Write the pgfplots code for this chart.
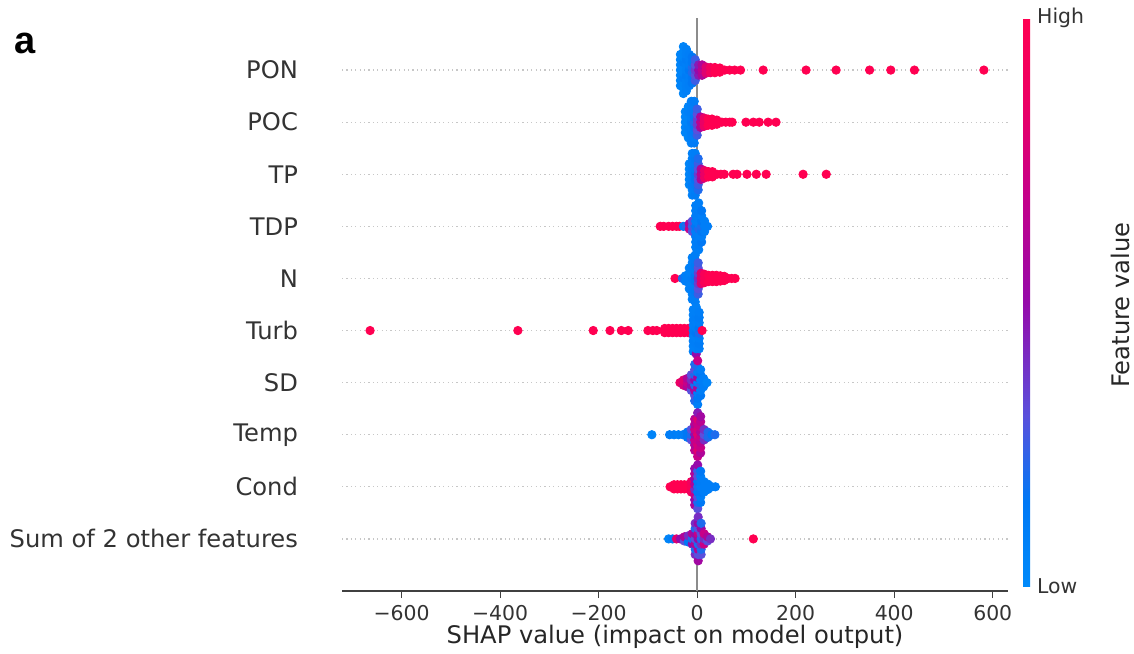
\documentclass[border=0pt]{standalone}
\usepackage{fontspec}
\setmainfont{DejaVu Sans}
\newfontfamily\panelfont{Liberation Sans}
\usepackage{pgfplots}
\pgfplotsset{compat=1.18}

\pgfplotsset{
  colormap={shap}{rgb255(0cm)=(0,138,250); rgb255(1.5cm)=(0,120,245); rgb255(3cm)=(90,80,220);
    rgb255(5cm)=(150,10,170); rgb255(7cm)=(200,0,135); rgb255(8.5cm)=(235,0,100); rgb255(10cm)=(255,0,81)}
}

% beeswarm points: x = SHAP value, y = row + vertical offset, c = feature value (0 low .. 1 high)
\pgfplotstableread[row sep=\\]{
x y c\\
-34 8.7 .05\\ -34 8.8 .05\\ -34 8.9 .05\\ -34 9.0 .05\\ -34 9.1 .05\\ -34 9.2 .05\\ -34 9.3 .05\\
-28 8.55 .05\\ -28 8.65 .05\\ -28 8.75 .05\\ -28 8.85 .1\\ -28 8.95 .05\\ -28 9.05 .05\\ -28 9.15 .1\\ -28 9.25 .05\\ -28 9.35 .05\\ -28 9.45 .05\\
-22 8.6 .08\\ -22 8.7 .08\\ -22 8.8 .08\\ -22 8.9 .12\\ -22 9.0 .08\\ -22 9.1 .08\\ -22 9.2 .12\\ -22 9.3 .08\\ -22 9.4 .08\\
-16 8.7 .1\\ -16 8.8 .1\\ -16 8.9 .1\\ -16 9.0 .15\\ -16 9.1 .1\\ -16 9.2 .1\\ -16 9.3 .1\\
-10 8.75 .15\\ -10 8.85 .15\\ -10 8.95 .2\\ -10 9.05 .2\\ -10 9.15 .15\\ -10 9.25 .15\\
-4 8.8 .25\\ -4 8.9 .3\\ -4 9.0 .35\\ -4 9.1 .3\\ -4 9.2 .25\\
3 8.9 .45\\ 3 9.0 .5\\ 3 9.1 .45\\
10 8.9 .6\\ 10 9.0 .65\\ 10 9.1 .6\\
18 8.94 .8\\ 18 9.0 .8\\ 18 9.06 .8\\
27 8.95 .9\\ 27 9.05 .9\\ 36 8.95 1\\ 36 9.05 1\\ 46 8.96 1\\ 46 9.04 1\\
56 9 1\\ 66 9 1\\ 76 9 1\\ 88 9 1\\
134 9 1\\ 221 9 1\\ 282 9 1\\ 350 9 1\\ 393 9 1\\ 441 9 1\\ 582 9 1\\
-24 7.8 .05\\ -24 7.9 .05\\ -24 8.0 .05\\ -24 8.1 .05\\ -24 8.2 .05\\
-18 7.7 .05\\ -18 7.8 .05\\ -18 7.9 .08\\ -18 8.0 .05\\ -18 8.1 .05\\ -18 8.2 .08\\ -18 8.3 .05\\
-12 7.6 .08\\ -12 7.7 .08\\ -12 7.8 .1\\ -12 7.9 .08\\ -12 8.0 .12\\ -12 8.1 .08\\ -12 8.2 .1\\ -12 8.3 .08\\ -12 8.4 .08\\
-6 7.6 .12\\ -6 7.7 .1\\ -6 7.8 .12\\ -6 7.9 .15\\ -6 8.0 .2\\ -6 8.1 .15\\ -6 8.2 .12\\ -6 8.3 .1\\ -6 8.4 .12\\
0 7.75 .25\\ 0 7.85 .3\\ 0 7.95 .35\\ 0 8.05 .35\\ 0 8.15 .3\\ 0 8.25 .25\\
7 7.9 .6\\ 7 8.0 .65\\ 7 8.1 .6\\
14 7.92 .85\\ 14 8.0 .85\\ 14 8.08 .85\\
22 7.94 1\\ 22 8.06 1\\ 30 7.94 1\\ 30 8.06 1\\ 40 7.96 1\\ 40 8.04 1\\
50 8 1\\ 58 8 1\\ 66 8 1\\ 71 8 1\\
99 8 1\\ 114 8 1\\ 126 8 1\\ 144 8 1\\ 160 8 1\\
-16 6.8 .05\\ -16 6.9 .05\\ -16 7.0 .05\\ -16 7.1 .05\\ -16 7.2 .05\\
-10 6.6 .08\\ -10 6.7 .08\\ -10 6.8 .1\\ -10 6.9 .08\\ -10 7.0 .08\\ -10 7.1 .1\\ -10 7.2 .08\\ -10 7.3 .08\\ -10 7.4 .08\\
-4 6.6 .12\\ -4 6.7 .1\\ -4 6.8 .12\\ -4 6.9 .15\\ -4 7.0 .15\\ -4 7.1 .12\\ -4 7.2 .1\\ -4 7.3 .12\\ -4 7.4 .1\\
2 6.7 .2\\ 2 6.8 .25\\ 2 6.9 .3\\ 2 7.0 .35\\ 2 7.1 .3\\ 2 7.2 .25\\ 2 7.3 .2\\
8 6.9 .6\\ 8 7.0 .65\\ 8 7.1 .6\\
15 6.93 .85\\ 15 7.0 .85\\ 15 7.07 .85\\
23 6.95 1\\ 23 7.05 1\\ 31 6.95 1\\ 31 7.05 1\\
40 7 1\\ 48 7 1\\ 55 7 1\\
73 7 1\\ 81 7 1\\ 101 7 1\\ 120 7 1\\ 140 7 1\\ 215 7 1\\ 262 7 1\\
-75 6 1\\ -68 6 1\\ -58 6 1\\ -50 6 1\\ -42 6 1\\ -36 6 1\\
-28 6 .15\\ -22 6 .2\\ -16 5.95 .7\\ -16 6.05 .6\\
-10 5.9 .3\\ -10 6.0 .25\\ -10 6.1 .3\\
-3 5.6 .1\\ -3 5.7 .1\\ -3 5.8 .12\\ -3 5.9 .1\\ -3 6.0 .15\\ -3 6.1 .1\\ -3 6.2 .12\\ -3 6.3 .1\\ -3 6.4 .1\\
3 5.55 .1\\ 3 5.65 .12\\ 3 5.75 .1\\ 3 5.85 .1\\ 3 5.95 .2\\ 3 6.05 .1\\ 3 6.15 .1\\ 3 6.25 .12\\ 3 6.35 .1\\ 3 6.45 .1\\
9 5.7 .15\\ 9 5.8 .1\\ 9 5.9 .15\\ 9 6.0 .2\\ 9 6.1 .15\\ 9 6.2 .1\\ 9 6.3 .15\\
15 5.9 .1\\ 15 6.0 .1\\ 15 6.1 .1\\ 21 6 .1\\
-45 5 1\\ -30 5 .2\\ -24 4.95 .1\\ -24 5.05 .1\\
-16 4.8 .08\\ -16 4.9 .08\\ -16 5.0 .1\\ -16 5.1 .08\\ -16 5.2 .08\\
-10 4.6 .08\\ -10 4.7 .08\\ -10 4.8 .1\\ -10 4.9 .08\\ -10 5.0 .12\\ -10 5.1 .08\\ -10 5.2 .1\\ -10 5.3 .08\\ -10 5.4 .08\\
-4 4.55 .1\\ -4 4.65 .1\\ -4 4.75 .12\\ -4 4.85 .1\\ -4 4.95 .15\\ -4 5.05 .15\\ -4 5.15 .1\\ -4 5.25 .12\\ -4 5.35 .1\\ -4 5.45 .1\\
2 4.7 .25\\ 2 4.8 .3\\ 2 4.9 .35\\ 2 5.0 .4\\ 2 5.1 .35\\ 2 5.2 .3\\ 2 5.3 .25\\
8 4.9 .8\\ 8 5.0 .8\\ 8 5.1 .8\\
15 4.92 .95\\ 15 5.0 .95\\ 15 5.08 .95\\
23 4.94 1\\ 23 5.06 1\\ 31 4.94 1\\ 31 5.06 1\\ 39 4.94 1\\ 39 5.06 1\\ 47 4.95 1\\ 47 5.05 1\\ 55 4.96 1\\ 55 5.04 1\\ 63 5 1\\
70 5 1\\ 77 5 1\\
-664 4 1\\ -364 4 1\\ -211 4 1\\ -177 4 1\\ -154 4 1\\ -140 4 1\\ -100 4 1\\ -90 4 1\\ -82 4 1\\
-66 3.96 1\\ -66 4.04 1\\ -58 3.96 1\\ -58 4.04 1\\ -50 3.96 1\\ -50 4.04 1\\ -42 3.96 1\\ -42 4.04 1\\ -34 3.96 1\\ -34 4.04 1\\ -26 3.96 1\\ -26 4.04 1\\ -18 3.96 1\\ -18 4.04 1\\
-8 3.6 .08\\ -8 3.7 .08\\ -8 3.8 .1\\ -8 3.9 .08\\ -8 4.0 .12\\ -8 4.1 .08\\ -8 4.2 .1\\ -8 4.3 .08\\ -8 4.4 .08\\
-2 3.55 .5\\ -2 3.65 .08\\ -2 3.75 .1\\ -2 3.85 .08\\ -2 3.95 .15\\ -2 4.05 .1\\ -2 4.15 .08\\ -2 4.25 .1\\ -2 4.35 .08\\ -2 4.45 .08\\
4 3.65 .1\\ 4 3.75 .12\\ 4 3.85 .1\\ 4 3.95 .2\\ 4 4.05 .15\\ 4 4.15 .1\\ 4 4.25 .12\\ 4 4.35 .1\\
10 4 1\\
-35 3 .85\\ -28 2.95 .75\\ -28 3.05 .8\\ -20 2.92 .6\\ -20 3 .7\\ -20 3.08 .6\\
-12 2.85 .3\\ -12 2.95 .5\\ -12 3.05 .4\\ -12 3.15 .3\\
-5 2.65 .2\\ -5 2.75 .3\\ -5 2.85 .6\\ -5 2.95 .2\\ -5 3.05 .5\\ -5 3.15 .2\\ -5 3.25 .3\\ -5 3.35 .2\\
1 2.58 .1\\ 1 2.7 .15\\ 1 2.8 .1\\ 1 2.9 .6\\ 1 3.0 .1\\ 1 3.1 .55\\ 1 3.2 .1\\ 1 3.3 .2\\ 1 3.42 .7\\
7 2.75 .15\\ 7 2.85 .1\\ 7 2.95 .2\\ 7 3.05 .1\\ 7 3.15 .15\\ 7 3.25 .1\\
13 2.92 .1\\ 13 3 .1\\ 13 3.08 .1\\ 20 3 .05\\
-92 2 .05\\ -56 2 .1\\ -47 2 .1\\ -38 2 .08\\ -29 2 .1\\
-20 1.95 .15\\ -20 2.05 .15\\ -12 1.9 .3\\ -12 2 .2\\ -12 2.1 .3\\
-5 1.7 .65\\ -5 1.8 .6\\ -5 1.9 .7\\ -5 2.0 .5\\ -5 2.1 .7\\ -5 2.2 .6\\ -5 2.3 .65\\
1 1.58 .7\\ 1 1.7 .8\\ 1 1.8 .75\\ 1 1.9 .7\\ 1 2.0 .8\\ 1 2.1 .75\\ 1 2.2 .7\\ 1 2.3 .8\\ 1 2.42 .45\\
7 1.65 .6\\ 7 1.75 .7\\ 7 1.85 .65\\ 7 1.95 .7\\ 7 2.05 .6\\ 7 2.15 .7\\ 7 2.25 .65\\ 7 2.35 .55\\
14 1.9 .4\\ 14 2 .3\\ 14 2.1 .4\\ 22 1.95 .2\\ 22 2.05 .2\\ 30 2 .15\\ 36 2 .2\\
-55 1 1\\ -47 0.96 1\\ -47 1.04 1\\ -40 0.96 1\\ -40 1.04 1\\ -33 0.96 1\\ -33 1.04 1\\ -26 0.96 1\\ -26 1.04 1\\ -19 0.96 1\\ -19 1.04 1\\
-12 0.9 .9\\ -12 1 .95\\ -12 1.1 .9\\
-5 0.65 .6\\ -5 0.75 .5\\ -5 0.85 .7\\ -5 0.95 .4\\ -5 1.05 .6\\ -5 1.15 .5\\ -5 1.25 .6\\ -5 1.35 .5\\
1 0.58 .3\\ 1 0.7 .2\\ 1 0.8 .3\\ 1 0.9 .15\\ 1 1.0 .2\\ 1 1.1 .15\\ 1 1.2 .3\\ 1 1.3 .25\\ 1 1.42 .5\\
7 0.7 .15\\ 7 0.8 .1\\ 7 0.9 .15\\ 7 1.0 .1\\ 7 1.1 .12\\ 7 1.2 .1\\ 7 1.3 .15\\
14 0.9 .1\\ 14 1 .1\\ 14 1.1 .1\\ 22 0.95 .1\\ 22 1.05 .1\\ 30 1 .1\\ 37 1 .1\\
-58 0 .05\\ -50 0 .1\\ -42 0 .8\\ -34 0 .5\\ -26 -0.04 .3\\ -26 0.04 .6\\ -18 -0.06 .15\\ -18 0.06 .4\\
-10 -0.1 .5\\ -10 0 .2\\ -10 0.1 .6\\
-4 -0.3 .4\\ -4 -0.2 .2\\ -4 -0.1 .6\\ -4 0 .3\\ -4 0.1 .5\\ -4 0.2 .2\\ -4 0.3 .4\\
2 -0.42 .55\\ 2 -0.3 .3\\ 2 -0.2 .6\\ 2 -0.1 .2\\ 2 0 .5\\ 2 0.1 .7\\ 2 0.2 .3\\ 2 0.3 .5\\ 2 0.42 .4\\
8 -0.3 .3\\ 8 -0.2 .2\\ 8 -0.1 .4\\ 8 0 .2\\ 8 0.1 .3\\ 8 0.2 .5\\ 8 0.3 .2\\
14 -0.1 .7\\ 14 0 .4\\ 14 0.1 .7\\ 21 -0.04 .3\\ 21 0.04 .6\\ 27 0 .4\\
114 0 1\\
}\shapdata

\begin{document}
\begin{tikzpicture}
\useasboundingbox (0,0) rectangle (567pt,326.5pt);
\node[font=\panelfont\bfseries\fontsize{19}{19}\selectfont] at (12.5pt,305pt) {a};
\node[rotate=90, font=\fontsize{12.1}{14}\selectfont, text=black!85] at (560pt,174pt) {Feature value};
\begin{axis}[
  at={(171pt,31pt)}, anchor=south west,
  scale only axis, width=333pt, height=286.5pt,
  xmin=-721, xmax=631, ymin=-1, ymax=10,
  axis lines*=left,
  y axis line style={draw=none},
  x axis line style={draw=black!75, line width=0.6pt},
  xtick={-600,-400,-200,0,200,400,600},
  xticklabels={−600,−400,−200,0,200,400,600},
  ytick={0,...,9},
  yticklabels={Sum of 2 other features,Cond,Temp,SD,Turb,N,TDP,TP,POC,PON},
  ytick style={draw=none},
  xtick style={draw=black!75, line width=0.6pt},
  tick align=outside, major tick length=3.5pt,
  xticklabel style={font=\fontsize{10.2}{12}\selectfont, text=black!80},
  yticklabel style={font=\fontsize{12.1}{14}\selectfont, text=black!80, xshift=-15pt},
  xlabel={SHAP value (impact on model output)},
  xlabel style={font=\fontsize{12.1}{14}\selectfont, text=black!85, yshift=4.5pt},
  colormap name=shap,
  point meta min=0, point meta max=1,
  colorbar,
  colorbar style={
    scale only axis,
    at={(parent axis.north east)}, anchor=north west, xshift=-1pt,
    width=3.5pt, height=284pt,
    axis line style={draw=none},
    ytick={0,1}, yticklabels={Low,High},
    major tick length=0pt,
    yticklabel style={font=\fontsize{10.2}{12}\selectfont, text=black!80, xshift=0pt},
  },
]
\pgfplotsinvokeforeach{0,...,9}{
  \addplot[draw=black!22, dash pattern=on 0.6pt off 1.6pt, line width=0.6pt, forget plot]
    coordinates {(-721,#1) (631,#1)};
}
\addplot[draw=black!45, line width=0.8pt, forget plot] coordinates {(0,-1) (0,10)};
\addplot[scatter, only marks, mark=*, mark size=2.1pt, scatter src=explicit,
  scatter/use mapped color={draw=mapped color, fill=mapped color}]
  table[x=x, y=y, meta=c] {\shapdata};
\end{axis}
\end{tikzpicture}
\end{document}
